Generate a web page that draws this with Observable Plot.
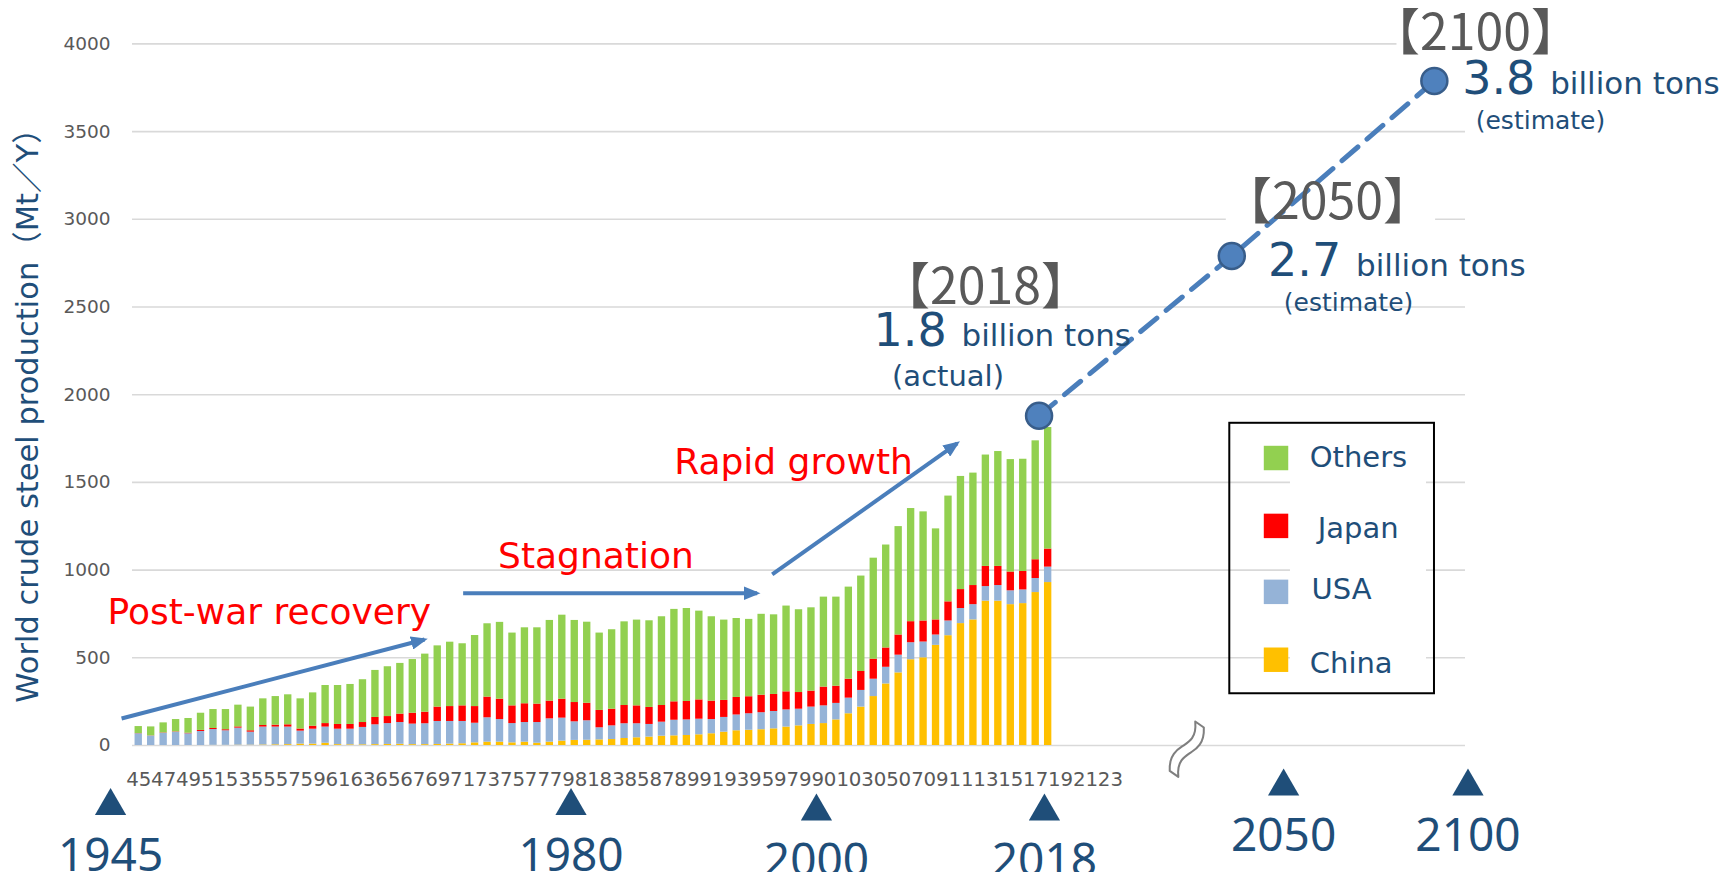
<!DOCTYPE html>
<html><head><meta charset="utf-8">
<script src="https://cdn.jsdelivr.net/npm/d3@7"></script>
<script src="https://cdn.jsdelivr.net/npm/@observablehq/plot@0.6"></script>
<style>
html,body{margin:0;padding:0;background:#fff;}
</style></head><body><div id="chart"></div>
<script>
// ---- bar data (Mt per year), 1945-2018 ----
const years = d3.range(1945, 2019);
const china = [0,0,0,0,0, 0,1,1,2,2, 3,4,5,8,8, 13,5,4,4,5, 6,7,5,5,6,
  8,10,15,19,19, 15,19,13,19,25, 29,30,32,34,40, 44,48,53,55,57, 61,67,76,84,87, 90,95,105,112,120,
  125,146,181,219,279, 351,414,489,500,571, 626,695,716,823,823, 803,809,872,929];
const usa = [67,54,70,76,67, 80,90,83,97,74, 102,101,100,74,85, 92,88,89,99,113, 119,124,117,119,131,
  129,127,112,139,129, 110,112,118,133,131, 106,111,69,78,84, 80,72,80,89,89, 89,81,84,90,94, 97,99,98,95,99,
  101,94,89,95,99, 95,101,97,90,59, 84,86,87,83,89, 79,78,80,88];
const japan = [1,1,2,2,3, 6,6,6,7,8, 9,11,13,12,17, 20,27,27,28,42, 40,48,62,66,82,
  85,89,95,118,116, 101,107,105,101,108, 110,100,99,95,104, 102,97,95,105,105, 110,105,97,100,97, 100,97,103,95,91,
  107,98,108,108,114, 110,115,120,120,86, 109,108,109,115,109, 107,105,107,103];
const others = [40,51,57,70,84, 98,108,115,124,135, 152,163,171,172,190, 217,222,228,244,268, 284,289,306,331,349,
  367,354,405,418,438, 415,433,435,460,479, 468,462,441,453,477, 489,494,506,527,530, 506,481,458,450,441, 461,454,489,472,475,
  513,508,525,544,576, 587,618,645,622,519, 603,645,641,635,655, 641,640,678,693];
const seriesNames = ["China", "USA", "Japan", "Others"];
const seriesColors = ["#FFC000", "#95B3D7", "#FF0000", "#92D050"];

// ---- axes ----
const yTicks = d3.range(0, 4001, 500);
const xTickYears = d3.range(1945, 2024, 2);
const yTitle = "World crude steel production（Mt／Y）";

// ---- forecast (positions on the year-slot axis, values in Mt) ----
const forecastPos = [2017.77, 2033.24, 2049.5];
const forecastValue = [1880, 2791, 3789];
const forecastTag = ["【2018】", "【2050】", "【2100】"];
const tagPos = [2013.47, 2040.92, 2052.8];
const tagValue = [2607, 3091, 4054];
const amount = ["1.8", "2.7", "3.8"];
const amountPos = [2004.48, 2036.15, 2051.73];
const amountValue = [2364, 2763, 3799];
const status = ["(actual)", "(estimate)", "(estimate)"];
const statusPos = [2010.46, 2042.61, 2058.02];
const statusValue = [2101, 2520, 3558];
const statusSize = [29, 25, 25];

// ---- phases ----
const phaseLabels = ["Post-war recovery", "Stagnation", "Rapid growth"];
const phasePos = [1955.98, 1982.2, 1998.06];
const phaseValue = [759, 1075, 1613];
const arrowX1 = [1944.12, 1971.54, 1996.35];
const arrowY1 = [154, 868, 975];
const arrowX2 = [1968.44, 1995.14, 2011.2];
const arrowY2 = [604, 868, 1723];

// ---- milestones below the axis ----
const milestoneLabels = ["1945", "1980", "2000", "2018", "2050", "2100"];
const milestonePos = [1943.24, 1980.2, 1999.9, 2018.2, 2037.4, 2052.2];
const milestoneMarkValue = [-345, -345, -376, -376, -234, -234];
const milestoneLabelValue = [-630, -630, -660, -660, -517, -517];

// ---- legend ----
const legendNames = ["Others", "Japan", "USA", "China"];
const legendSwatchPos = 2036.79;
const legendSwatchValue = [1639, 1252, 876, 489];
const legendTextPos = [2039.5, 2040.14, 2039.64, 2039.5];
const legendTextValue = [1640, 1237, 886, 467];
const legendBox = [{x1: 2033.08, x2: 2049.51, y1: 295, y2: 1837}];

// white boxes behind text (hide gridlines)
const maskX1 = [2032.8, 2046.5, 2037.95];
const maskX2 = [2049.6, 2052.2, 2048.87];
const maskY1 = [2965, 3950, 308];
const maskY2 = [3250, 4100, 1824];

const breakPos = 2029.59, breakValue = -20;

// ---- build tables ----
const seriesValues = [china, usa, japan, others];
const bars = seriesNames.flatMap((s, k) => years.map((yr, i) => ({year: yr, series: s, value: seriesValues[k][i]})));
const forecast = forecastPos.map((p, i) => ({x: p, y: forecastValue[i]}));
const tags = forecastTag.map((t, i) => ({t, x: tagPos[i], y: tagValue[i]}));
const amounts = amount.map((t, i) => ({t, x: amountPos[i], y: amountValue[i]}));
const statuses = status.map((t, i) => ({t, x: statusPos[i], y: statusValue[i], s: statusSize[i]}));
const phases = phaseLabels.map((t, i) => ({t, x: phasePos[i], y: phaseValue[i]}));
const arrows = arrowX1.map((x, i) => ({x1: x, y1: arrowY1[i], x2: arrowX2[i], y2: arrowY2[i]}));
const milestones = milestoneLabels.map((t, i) => ({t, x: milestonePos[i], ym: milestoneMarkValue[i], yl: milestoneLabelValue[i]}));
const legendRows = legendNames.map((n, i) => ({n, sy: legendSwatchValue[i], tx: legendTextPos[i], ty: legendTextValue[i]}));
const masks = maskX1.map((x, i) => ({x1: x, x2: maskX2[i], y1: maskY1[i], y2: maskY2[i]}));

const blue = "#1F4E79";
const FONT = "DejaVu Sans, 'Noto Sans CJK JP', sans-serif";

const chart = Plot.plot({
  width: 1727, height: 872,
  marginLeft: 132, marginRight: 262, marginTop: 43.4, marginBottom: 127,
  x: {domain: [1945, 2052]},
  y: {domain: [0, 4000]},
  color: {domain: seriesNames, range: seriesColors},
  style: {fontFamily: FONT, background: "white", overflow: "visible"},
  marks: [
    Plot.gridY(yTicks, {stroke: "#D9D9D9", strokeOpacity: 1, strokeWidth: 1.6}),
    Plot.rect(masks, {x1: "x1", x2: "x2", y1: "y1", y2: "y2", fill: "white"}),
    Plot.rectY(bars, {x: "year", interval: 1, y: "value", fill: "series", order: seriesNames, insetLeft: 2.55, insetRight: 2.55}),
    Plot.axisY(yTicks, {tickSize: 0, tickPadding: 22, fontSize: 18.5, color: "#595959", label: null, tickFormat: d => String(d)}),
    Plot.axisX(xTickYears.map(y => y + 0.5), {tickSize: 0, tickPadding: 26, fontSize: 19.8, color: "#595959", label: null,
      tickFormat: d => String(Math.floor(d)).slice(-2)}),
    Plot.text([yTitle], {frameAnchor: "left", textAnchor: "middle", dx: -104, dy: 13.3, rotate: -90, fontSize: 30.5, fill: blue, text: d => d}),
    // legend
    Plot.rect(legendBox, {x1: "x1", x2: "x2", y1: "y1", y2: "y2", fill: "none", stroke: "black", strokeWidth: 2}),
    Plot.dot(legendRows, {x: legendSwatchPos, y: "sy", symbol: "square", r: 13.8, fill: "n", stroke: null}),
    Plot.text(legendRows, {x: "tx", y: "ty", text: "n", textAnchor: "start", fontSize: 29, fill: blue}),
    // phases
    Plot.link(arrows, {x1: "x1", y1: "y1", x2: "x2", y2: "y2", stroke: "#4A7EBB", strokeWidth: 4}),
    Plot.text(phases, {x: "x", y: "y", text: "t", fontSize: 36, fill: "#FF0000"}),
    // forecast
    Plot.line(forecast, {x: "x", y: "y", stroke: "#4A7EBB", strokeWidth: 5, strokeDasharray: "21,12"}),
    Plot.dot(forecast, {x: "x", y: "y", r: 13, fill: "#4F81BD", stroke: "#385D8A", strokeWidth: 2.5}),
    Plot.text(tags, {x: "x", y: "y", text: "t", fontSize: 50, fill: "#595959", fontFamily: "'Noto Sans CJK JP'", ariaLabel: "bracket"}),
    Plot.text(amounts, {x: "x", y: "y", text: "t", textAnchor: "start", fontSize: 46, fill: blue}),
    Plot.text(amounts, {x: "x", y: "y", text: () => "billion tons", textAnchor: "start", fontSize: 31, dx: 88, dy: 4.8, fill: blue}),
    Plot.text(statuses, {x: "x", y: "y", text: "t", fontSize: d => d.s, fill: blue}),
    // milestones
    Plot.dot(milestones, {x: "x", y: "ym", symbol: "triangle", r: 11.6, fill: blue, stroke: null}),
    Plot.text(milestones, {x: "x", y: "yl", text: "t", fontSize: 46, fill: blue, fontFamily: "'Noto Sans'"}),
    // axis break
    Plot.text(["~"], {x: breakPos, y: breakValue, text: d => d, rotate: -55, fontSize: 88, fontWeight: "bold", fill: "white", stroke: "#7F7F7F", strokeWidth: 2, paintOrder: "normal"})
  ]
});

document.getElementById("chart").appendChild(chart);

// filled arrow heads
const svg = d3.select(chart);
const defs = svg.insert("defs", ":first-child");
defs.append("marker").attr("id", "tri").attr("viewBox", "0 0 10 10").attr("refX", 8).attr("refY", 5)
  .attr("markerWidth", 4.2).attr("markerHeight", 3.4).attr("orient", "auto").attr("markerUnits", "strokeWidth")
  .attr("preserveAspectRatio", "none")
  .append("path").attr("d", "M0,0L10,5L0,10Z").attr("fill", "#4A7EBB");
svg.selectAll('g[aria-label="link"] path').attr("marker-end", "url(#tri)");
svg.selectAll('g[aria-label="bracket"] text').style("font-feature-settings", '"palt"');
</script></body></html>
